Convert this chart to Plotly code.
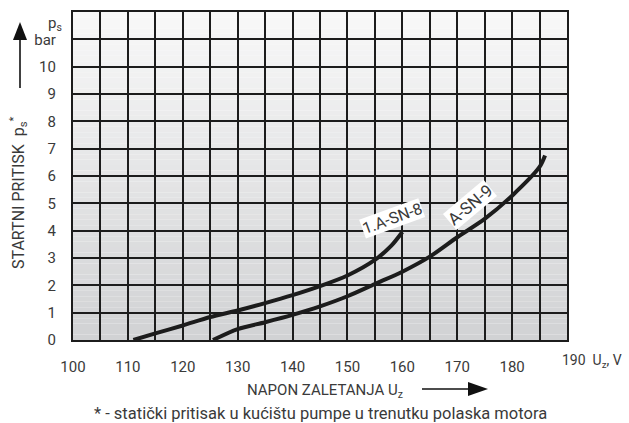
import plotly.graph_objects as go

# ---- data ----
sn8_x = [111, 115, 120, 125, 130, 135, 140, 145, 150, 155, 158, 160]
sn8_y = [0, 0.24, 0.53, 0.84, 1.08, 1.35, 1.64, 1.97, 2.36, 2.93, 3.45, 3.95]
sn9_x = [125.5, 130, 135, 140, 145, 150, 155, 160, 165, 170, 175, 180, 185, 186]
sn9_y = [0, 0.4, 0.65, 0.92, 1.23, 1.6, 2.05, 2.5, 3.05, 3.76, 4.43, 5.28, 6.33, 6.75]
x_ticks = [100, 110, 120, 130, 140, 150, 160, 170, 180]
y_ticks = [0, 1, 2, 3, 4, 5, 6, 7, 8, 9, 10]

W, H = 629, 423
L, R, T, B = 73, 62, 12, 83
PW, PH = W - L - R, H - T - B
def px(x): return (x - L) / PW
def py(y): return (H - B - y) / PH

FONT = "Roboto"
TXT = "#3a3a3a"
LINE = "#1c1c1c"

fig = go.Figure()
fig.add_trace(go.Scatter(x=sn8_x, y=sn8_y, mode="lines",
                         line=dict(color=LINE, width=4, shape="spline", smoothing=0.8),
                         showlegend=False, hoverinfo="skip"))
fig.add_trace(go.Scatter(x=sn9_x, y=sn9_y, mode="lines",
                         line=dict(color=LINE, width=4, shape="spline", smoothing=0.8),
                         showlegend=False, hoverinfo="skip"))

shapes = []
# gradient background
N = 60
top = (248, 248, 248)
bot = (209, 210, 212)
for i in range(N):
    fr = i / (N - 1)
    c = tuple(int(round(top[k] + (bot[k] - top[k]) * fr)) for k in range(3))
    shapes.append(dict(type="rect", xref="paper", yref="paper",
                       x0=0, x1=1, y0=1 - (i + 1) / N, y1=1 - i / N,
                       fillcolor="rgb(%d,%d,%d)" % c, line=dict(width=0), layer="below"))
# vertical arrow top-left
shapes.append(dict(type="line", xref="paper", yref="paper",
                   x0=px(20), x1=px(20), y0=py(88), y1=py(36),
                   line=dict(color="#111", width=1.6)))
shapes.append(dict(type="path", xref="paper", yref="paper",
                   path="M %f %f L %f %f L %f %f Z" % (px(20), py(22), px(13), py(40), px(27), py(40)),
                   fillcolor="#111", line=dict(width=0)))
# horizontal arrow bottom
shapes.append(dict(type="line", xref="paper", yref="paper",
                   x0=px(422), x1=px(472), y0=py(389), y1=py(389),
                   line=dict(color="#111", width=1.6)))
shapes.append(dict(type="path", xref="paper", yref="paper",
                   path="M %f %f L %f %f L %f %f Z" % (px(488), py(389), px(468), py(382), px(468), py(396)),
                   fillcolor="#111", line=dict(width=0)))

def f(size=14):
    return dict(family=FONT, size=size, color=TXT)

def pann(x, y, text, size, **kw):
    d = dict(x=px(x), y=py(y), xref="paper", yref="paper", text=text, showarrow=False,
             xanchor="center", yanchor="middle", font=f(size))
    d.update(kw)
    return d

ann = []
ann.append(dict(x=158.1, y=4.46, xref="x", yref="y", text="1.A-SN-8", showarrow=False,
                xanchor="center", yanchor="middle",
                textangle=-20, bgcolor="white", borderpad=0, font=f(16)))
ann.append(dict(x=172.3, y=4.94, xref="x", yref="y", text="A-SN-9", showarrow=False,
                xanchor="center", yanchor="middle",
                textangle=-40, bgcolor="white", borderpad=0, font=f(17)))
ann.append(pann(55, 24, "p<sub>s</sub>", 15))
ann.append(pann(19, 193, "STARTNI PRITISK  p<sub>s</sub><sup>*</sup>", 16, textangle=-90))
ann.append(pann(560, 361, "190  U<sub>z</sub>, V", 14, xanchor="left"))
ann.append(pann(325, 391, "NAPON ZALETANJA U<sub>z</sub>", 15))
ann.append(pann(320, 413, "* - statički pritisak u kućištu pumpe u trenutku polaska motora", 16.5))

xv = list(range(100, 191, 5))
xt = [str(v) if v in x_ticks else "" for v in xv]
yv = list(range(0, 13))
yt = [str(v) if v in y_ticks else ("bar" if v == 11 else "") for v in yv]

fig.update_layout(
    width=W, height=H, margin=dict(l=L, r=R, t=T, b=B),
    paper_bgcolor="white", plot_bgcolor="rgba(0,0,0,0)",
    shapes=shapes, annotations=ann,
    font=dict(family=FONT, size=14, color=TXT),
    xaxis=dict(range=[100, 190], tickvals=xv, ticktext=xt, showgrid=True,
               gridcolor=LINE, gridwidth=1.8, zeroline=False, automargin=False,
               showline=True, mirror=True, linecolor=LINE, linewidth=2.2,
               ticks="outside", ticklen=12, tickcolor="rgba(0,0,0,0)",
               tickfont=f(15)),
    yaxis=dict(range=[0, 12], tickvals=yv, ticktext=yt, showgrid=True,
               gridcolor=LINE, gridwidth=1.8, zeroline=False, automargin=False,
               showline=True, mirror=True, linecolor=LINE, linewidth=2.2,
               ticks="outside", ticklen=12, tickcolor="rgba(0,0,0,0)",
               tickfont=f(15)),
)
fig.write_html("out.html", config={"displayModeBar": False},
               post_script="document.body.style.margin='0px';document.body.style.padding='0px';")
